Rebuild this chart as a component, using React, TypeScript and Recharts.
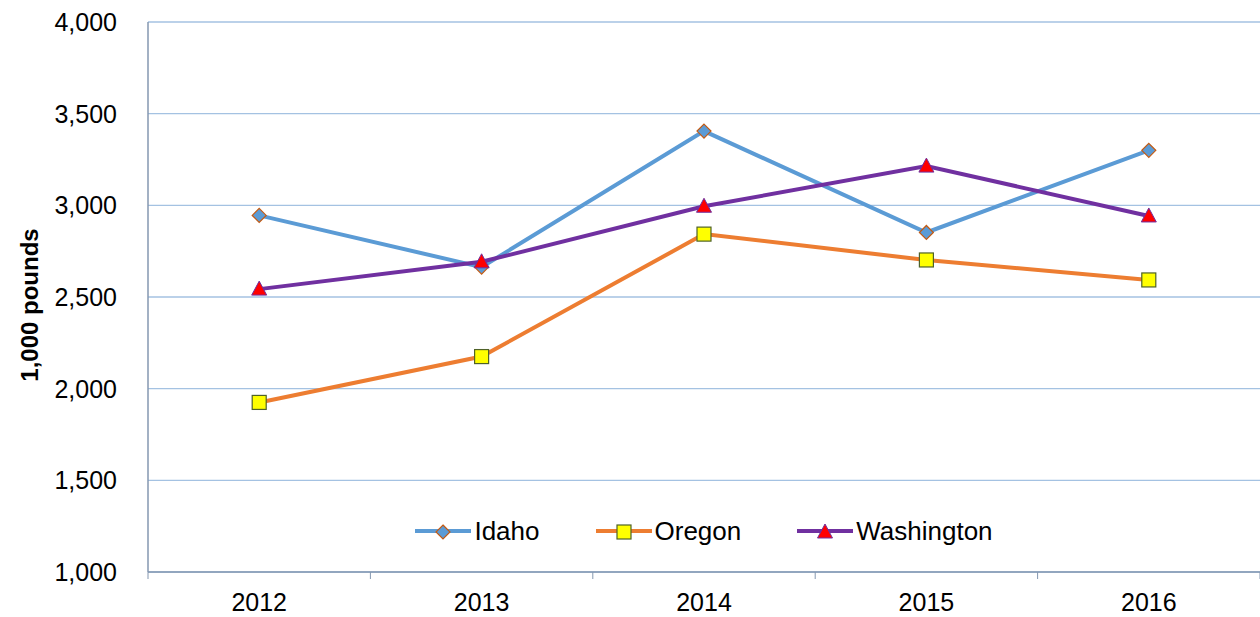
import { LineChart, Line, XAxis, YAxis, CartesianGrid } from 'recharts';

const years = ['2012', '2013', '2014', '2015', '2016'];
const idaho = [2945, 2663, 3405, 2852, 3300];
const oregon = [1925, 2175, 2843, 2702, 2593];
const washington = [2543, 2692, 2995, 3214, 2942];
const yTicks = [1000, 1500, 2000, 2500, 3000, 3500, 4000];

const data = years.map((year, i) => ({
    year,
    Idaho: idaho[i],
    Oregon: oregon[i],
    Washington: washington[i],
}));

const FONT = 'Arial, "Liberation Sans", sans-serif';
const HALF_BAND = 111.2;
const AXIS_COLOR = '#8497B0';

const series = [
    { key: 'Idaho', color: '#5B9BD5', shape: 'diamond' },
    { key: 'Oregon', color: '#ED7D31', shape: 'square' },
    { key: 'Washington', color: '#7030A0', shape: 'triangle' },
];

function Marker({ shape, cx, cy }: { shape: string; cx: number; cy: number }) {
    if (shape === 'diamond') {
        return (
            <polygon
                points={`${cx},${cy - 7} ${cx + 7},${cy} ${cx},${cy + 7} ${cx - 7},${cy}`}
                fill="#5B9BD5"
                stroke="#C55A11"
                strokeWidth={1.2}
            />
        );
    }
    if (shape === 'square') {
        return <rect x={cx - 7} y={cy - 7} width={14} height={14} fill="#FFFF00" stroke="#4F6228" strokeWidth={1.2} />;
    }
    return (
        <polygon
            points={`${cx},${cy - 8} ${cx + 7.5},${cy + 6} ${cx - 7.5},${cy + 6}`}
            fill="#FF0000"
            stroke="#7030A0"
            strokeWidth={1}
        />
    );
}

function makeDot(shape: string) {
    return (props: any) => {
        const { cx, cy, index } = props;
        if (cx == null || cy == null) return <g key={index} />;
        return <Marker key={index} shape={shape} cx={cx} cy={cy} />;
    };
}

function XTick(props: any) {
    const { x, y, payload, index } = props;
    const axisY = y - 21;
    return (
        <g>
            <line x1={x - HALF_BAND} x2={x - HALF_BAND} y1={axisY} y2={axisY + 7} stroke={AXIS_COLOR} />
            {index === years.length - 1 && (
                <line x1={x + HALF_BAND} x2={x + HALF_BAND} y1={axisY} y2={axisY + 7} stroke={AXIS_COLOR} />
            )}
            <text x={x} y={y} dy="0.71em" textAnchor="middle" fill="#000" fontSize={25} fontFamily={FONT}>
                {payload.value}
            </text>
        </g>
    );
}

// legend drawn as an overlay so it does not shrink the plot area
function ChartLegend() {
    return (
        <div
            style={{
                position: 'absolute',
                top: 516,
                left: 148,
                width: 1112,
                display: 'flex',
                justifyContent: 'center',
                alignItems: 'center',
                gap: 56,
                fontFamily: FONT,
                fontSize: 26,
                color: '#000',
            }}
        >
            {series.map((s) => (
                <div key={s.key} style={{ display: 'flex', alignItems: 'center' }}>
                    <svg width={56} height={20}>
                        <line x1={0} x2={56} y1={10} y2={10} stroke={s.color} strokeWidth={4} />
                        <Marker shape={s.shape} cx={28} cy={11} />
                    </svg>
                    <span style={{ marginLeft: 3, lineHeight: '30px' }}>{s.key}</span>
                </div>
            ))}
        </div>
    );
}

function YLabel() {
    return (
        <text
            x={29}
            y={305}
            transform="rotate(-90, 29, 305)"
            textAnchor="middle"
            dominantBaseline="central"
            fontSize={24}
            fontWeight="bold"
            fontFamily={FONT}
            fill="#000"
        >
            1,000 pounds
        </text>
    );
}

export default function App() {
    return (
        <div style={{ position: 'absolute', left: 0, top: 0, width: 1260, height: 617, background: '#fff' }}>
            <LineChart width={1260} height={617} data={data} margin={{ top: 22, right: 0, left: 0, bottom: 0 }}>
                <CartesianGrid vertical={false} stroke="#A4C2E2" strokeWidth={1.3} />
                <XAxis
                    dataKey="year"
                    height={45}
                    padding={{ left: HALF_BAND, right: HALF_BAND }}
                    axisLine={{ stroke: AXIS_COLOR, strokeWidth: 1.5 }}
                    tickLine={false}
                    tickSize={0}
                    tickMargin={21}
                    tick={<XTick />}
                    interval={0}
                />
                <YAxis
                    width={148}
                    domain={[1000, 4000]}
                    ticks={yTicks}
                    interval={0}
                    axisLine={{ stroke: AXIS_COLOR, strokeWidth: 1.5 }}
                    tickLine={false}
                    tickSize={0}
                    tickMargin={31}
                    tickFormatter={(v: number) => v.toLocaleString('en-US')}
                    tick={{ fill: '#000', fontSize: 25, fontFamily: FONT }}
                    label={<YLabel />}
                />
                {series.map((s) => (
                    <Line
                        key={s.key}
                        type="linear"
                        dataKey={s.key}
                        stroke={s.color}
                        strokeWidth={4}
                        dot={makeDot(s.shape)}
                        activeDot={false}
                        isAnimationActive={false}
                    />
                ))}
            </LineChart>
            <ChartLegend />
        </div>
    );
}
